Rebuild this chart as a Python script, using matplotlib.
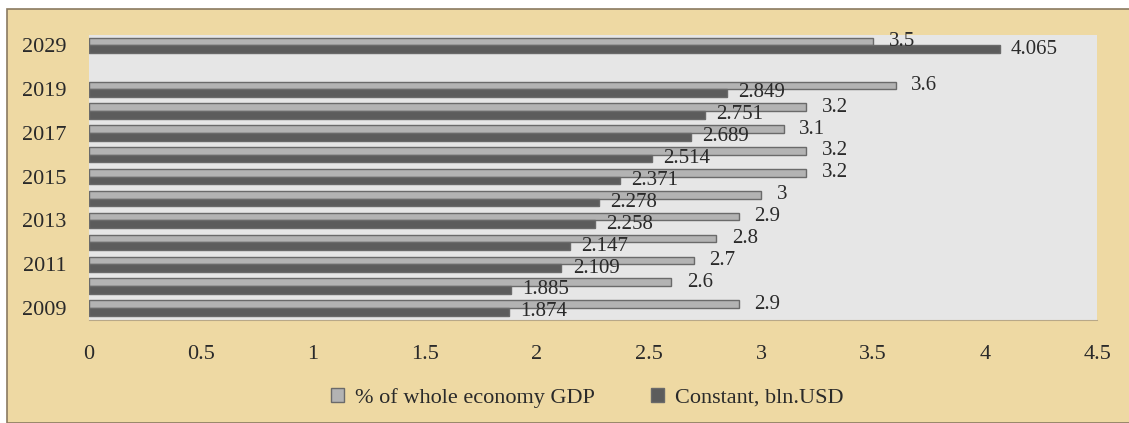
import numpy as np
import matplotlib.pyplot as plt
from matplotlib.patches import Rectangle

years = ['2009', '2010', '2011', '2012', '2013', '2014', '2015',
         '2016', '2017', '2018', '2019', '2029']
pct_gdp = [2.9, 2.6, 2.7, 2.8, 2.9, 3, 3.2, 3.2, 3.1, 3.2, 3.6, 3.5]
const_usd = [1.874, 1.885, 2.109, 2.147, 2.258, 2.278, 2.371,
             2.514, 2.689, 2.751, 2.849, 4.065]
pct_labels = ['2.9', '2.6', '2.7', '2.8', '2.9', '3', '3.2', '3.2',
              '3.1', '3.2', '3.6', '3.5']
xticks = [0, 0.5, 1, 1.5, 2, 2.5, 3, 3.5, 4, 4.5]

plt.rcParams['font.family'] = ['Liberation Serif', 'DejaVu Serif']
txt = '#2a2a2a'

fig = plt.figure(figsize=(11.29, 4.23), dpi=100, facecolor='white')
# papyrus-like panel behind everything
fig.patches.append(Rectangle((7 / 1129, 0), 1, 1 - 9 / 423, transform=fig.transFigure,
                             facecolor='#eed9a3', edgecolor='#8a7a60', linewidth=1.2,
                             zorder=-10))

ax = fig.add_axes([0.0788, 0.2435, 0.893, 0.674])
ax.set_facecolor('#e6e6e6')

pos = np.arange(len(years), dtype=float)
pos[-1] += 1  # leave an empty slot between 2019 and 2029
h = 0.35

b1 = ax.barh(pos + h / 2, pct_gdp, height=h, color='#b3b3b3', edgecolor='#6a6a6a',
             linewidth=1.0, label='% of whole economy GDP')
b2 = ax.barh(pos - h / 2, const_usd, height=h, color='#5c5c5c', edgecolor='#6a6a6a',
             linewidth=1.0, label='Constant, bln.USD')

for y, v, s in zip(pos, pct_gdp, pct_labels):
    ax.text(v + 0.07, y + h / 2, s, va='center', ha='left', fontsize=15, color=txt)
for y, v in zip(pos, const_usd):
    ax.text(v + 0.05, y - h / 2, '%.3f' % v, va='center', ha='left',
            fontsize=15, color=txt)

ax.set_xlim(0, 4.5)
ax.set_ylim(-0.55, pos[-1] + 0.48)
ax.set_xticks(xticks)
ax.set_xticklabels(['%g' % t for t in xticks])
ax.set_yticks(list(pos[:-1:2]) + [pos[-1]])
ax.set_yticklabels(years[:-1:2] + [years[-1]])
ax.tick_params(length=0, labelsize=16, colors=txt)
ax.tick_params(axis='x', pad=18)
ax.tick_params(axis='y', pad=16)
for s in ax.spines.values():
    s.set_visible(False)
ax.spines['bottom'].set_visible(True)
ax.spines['bottom'].set_color('#b8a888')

fig.legend(handles=[b1, b2], loc='center', bbox_to_anchor=(0.52, 0.06), ncol=2,
           frameon=False, fontsize=16, handlelength=0.6, handleheight=0.6,
           columnspacing=2.5, handletextpad=0.5, labelcolor=txt)

fig.savefig('out.png', dpi=100, facecolor=fig.get_facecolor())
